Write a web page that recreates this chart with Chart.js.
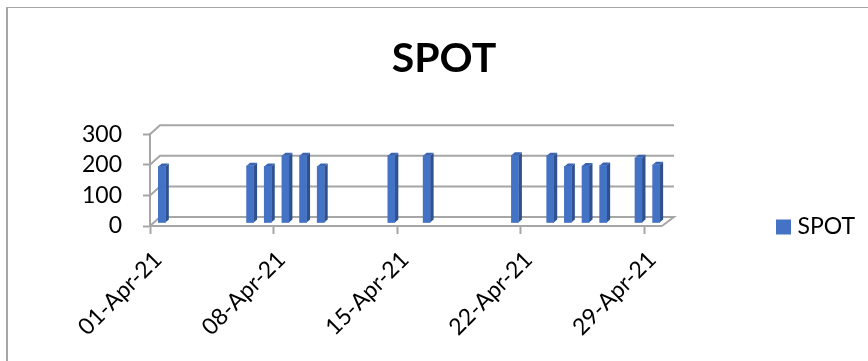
<!DOCTYPE html>
<html>
<head>
<meta charset="utf-8">
<style>
html, body { margin: 0; padding: 0; background: #fff; overflow: hidden; }
#frame { position: absolute; left: 6px; top: 7px; right: 0; bottom: 0; border-left: 2px solid #a6a6a6; border-top: 1px solid #a6a6a6; }
#wrap { position: absolute; left: 18px; top: 0; width: 850px; height: 361px; }
</style>
<script src="https://cdn.jsdelivr.net/npm/chart.js@4"></script>
</head>
<body>
<div id="frame"></div>
<div id="wrap"><canvas id="myChart" width="850" height="361"></canvas></div>
<script>
// Dữ liệu
var days = ['01-Apr-21','02-Apr-21','03-Apr-21','04-Apr-21','05-Apr-21','06-Apr-21','07-Apr-21','08-Apr-21','09-Apr-21','10-Apr-21',
    '11-Apr-21','12-Apr-21','13-Apr-21','14-Apr-21','15-Apr-21','16-Apr-21','17-Apr-21','18-Apr-21','19-Apr-21','20-Apr-21',
    '21-Apr-21','22-Apr-21','23-Apr-21','24-Apr-21','25-Apr-21','26-Apr-21','27-Apr-21','28-Apr-21','29-Apr-21'];
var spot = [185, null, null, null, null, 187, 185, 220, 220, 185,
    null, null, null, 220, null, 220, null, null, null, null,
    221, null, 220, 185, 186, 188, null, 213, 190];
var yTicks = [0, 100, 200, 300];

var gray = '#a6a6a6';
var blue = '#4472c4';
var depthX = 10, depthY = 9;   // chiều sâu của tường sau
var barDx = 3, barDy = 3;      // vị trí cột trong chiều sâu
var sideX = 3.5, sideY = 3;    // mặt bên của cột

// Vẽ tường và lưới phía sau
var wallPlugin = {
    id: 'wall',
    beforeDatasetsDraw: function (chart) {
        var c = chart.ctx, y = chart.scales.y, a = chart.chartArea;
        c.save();
        c.strokeStyle = gray;
        c.lineWidth = 2;
        yTicks.forEach(function (t) {
            var py = y.getPixelForValue(t);
            c.beginPath();
            c.moveTo(a.left, py);
            c.lineTo(a.left + depthX, py - depthY);
            c.lineTo(a.right + depthX + 2, py - depthY);
            if (t === 0) c.lineTo(a.right, py);
            c.stroke();
        });
        c.restore();
    },
    beforeDatasetDraw: function (chart, args) {
        var c = chart.ctx;
        c.save();
        c.translate(barDx, -barDy);
        chart.getDatasetMeta(args.index).data.forEach(function (bar, i) {
            if (spot[i] === null) return;
            var r = bar.x + bar.width / 2, l = bar.x - bar.width / 2;
            c.fillStyle = '#2f528f';
            c.beginPath();
            c.moveTo(r, bar.y);
            c.lineTo(r + sideX, bar.y - sideY);
            c.lineTo(r + sideX, bar.base - sideY);
            c.lineTo(r, bar.base);
            c.fill();
            c.fillStyle = '#3a64b0';
            c.beginPath();
            c.moveTo(l, bar.y);
            c.lineTo(l + sideX, bar.y - sideY);
            c.lineTo(r + sideX, bar.y - sideY);
            c.lineTo(r, bar.y);
            c.fill();
        });
    },
    afterDatasetDraw: function (chart) {
        chart.ctx.restore();
    },
    afterLayout: function (chart) {
        // đưa chú giải xuống ngang trục, tiêu đề giữa khung
        var lg = chart.legend, h = lg.bottom - lg.top;
        lg.left = 757;
        lg.right = 850;
        lg.top = 227 - h / 2;
        lg.bottom = lg.top + h;
        chart.titleBlock.left = 0;
        chart.titleBlock.right = 852;
    }
};

var ctx = document.getElementById('myChart').getContext('2d');
var myChart = new Chart(ctx, {
    type: 'bar',
    data: {
        labels: days,
        datasets: [{
            label: 'SPOT',
            data: spot,
            backgroundColor: blue,
            barThickness: 7,
            clip: false
        }]
    },
    plugins: [wallPlugin],
    options: {
        responsive: false,
        animation: false,
        layout: { padding: { left: 0, right: 116, top: 0, bottom: 0 } },
        plugins: {
            title: {
                display: true,
                text: 'SPOT',
                color: '#000',
                font: { family: 'Lato', size: 41, weight: 'bold' },
                padding: { top: 34, bottom: 51 }
            },
            legend: {
                position: 'right',
                labels: {
                    color: '#000',
                    boxWidth: 5,
                    boxHeight: 5,
                    padding: 6,
                    font: { family: 'Lato', size: 23 },
                    generateLabels: function () {
                        return [{ text: 'SPOT', fillStyle: blue, strokeStyle: blue, lineWidth: 10, datasetIndex: 0 }];
                    }
                }
            },
            tooltip: { enabled: false }
        },
        scales: {
            x: {
                offset: true,
                afterFit: function (s) { s.height = 135; },
                grid: {
                    offset: true,
                    drawOnChartArea: false,
                    tickLength: 8,
                    tickWidth: 2,
                    tickColor: function (c) { return c.index % 7 === 0 ? gray : 'transparent'; }
                },
                border: { color: gray, width: 2 },
                ticks: {
                    autoSkip: false,
                    maxRotation: 45,
                    minRotation: 45,
                    color: '#000',
                    labelOffset: -1,
                    padding: 12,
                    font: { family: 'Lato', size: 23 },
                    callback: function (v, i) { return i % 7 === 0 ? days[i] : ''; }
                }
            },
            y: {
                min: 0,
                max: 300,
                afterFit: function (s) { s.width = 132; },
                grid: { drawOnChartArea: false, tickLength: 7, tickWidth: 2, tickColor: gray },
                border: { color: gray, width: 2 },
                ticks: {
                    stepSize: 100,
                    color: '#000',
                    padding: 21,
                    font: { family: 'Lato', size: 23 }
                }
            }
        }
    }
});
</script>
</body>
</html>
